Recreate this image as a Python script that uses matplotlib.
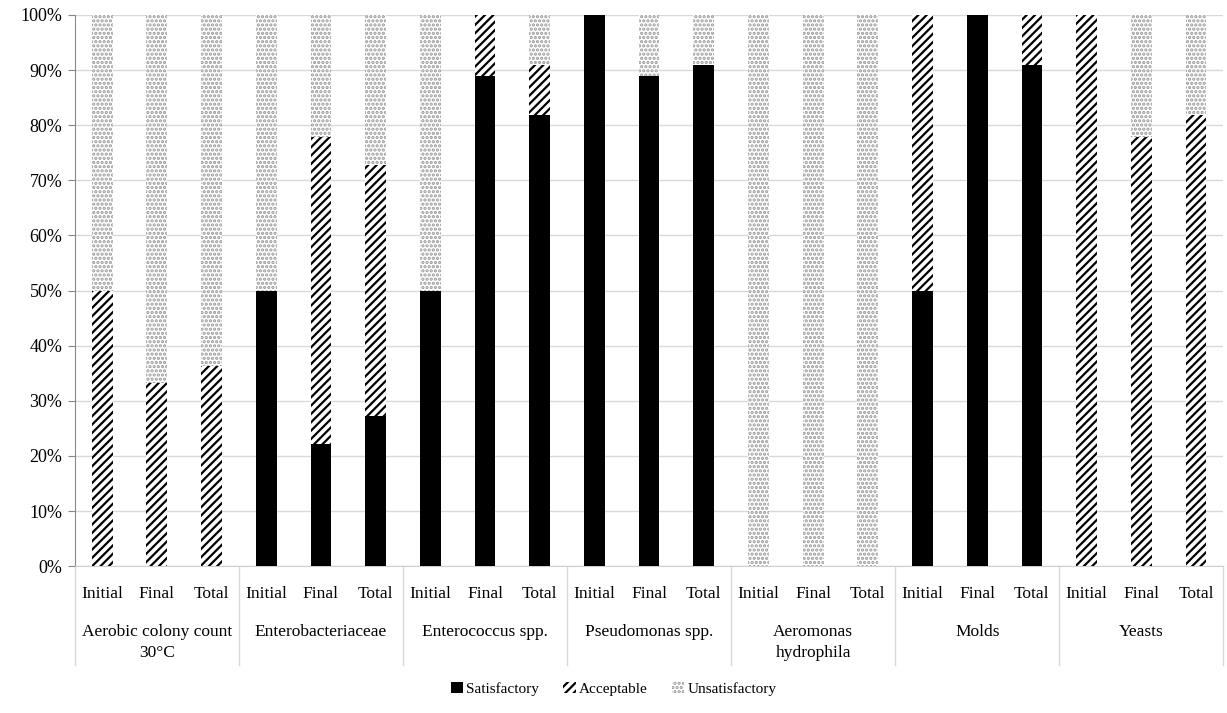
import matplotlib
matplotlib.use("Agg")
import matplotlib.pyplot as plt
import numpy as np
from matplotlib.patches import Patch
from matplotlib.ticker import PercentFormatter
from matplotlib.transforms import blended_transform_factory

plt.rcParams["font.family"] = ["Liberation Serif", "DejaVu Serif"]
plt.rcParams["hatch.linewidth"] = 1.6

groups = ["Aerobic colony count\n30°C", "Enterobacteriaceae", "Enterococcus spp.",
          "Pseudomonas spp.", "Aeromonas\nhydrophila", "Molds", "Yeasts"]
stages = ["Initial", "Final", "Total"]

# percentages per bar (group-major, Initial/Final/Total)
satisfactory = [0, 0, 0,
                50, 22.2, 27.3,
                50, 88.9, 81.8,
                100, 88.9, 90.9,
                0, 0, 0,
                50, 100, 90.9,
                0, 0, 0]
acceptable = [50, 33.3, 36.4,
              0, 55.6, 45.4,
              0, 11.1, 9.1,
              0, 0, 0,
              0, 0, 0,
              50, 0, 9.1,
              100, 77.8, 81.8]
unsatisfactory = [50, 66.7, 63.6,
                  50, 22.2, 27.3,
                  50, 0, 9.1,
                  0, 11.1, 9.1,
                  100, 100, 100,
                  0, 0, 0,
                  0, 22.2, 18.2]

sat = np.array(satisfactory)
acc = np.array(acceptable)
uns = np.array(unsatisfactory)
x = np.arange(len(sat))

fig = plt.figure(figsize=(12.27, 7.13), dpi=100)
ax = fig.add_axes([0.061, 0.206, 0.936, 0.773])

DOT = "#9a9a9a"
w = 0.38
ax.bar(x, sat, w, color="black", linewidth=0, zorder=3)
ax.bar(x, acc, w, bottom=sat, color="white", edgecolor="black",
       hatch="////", linewidth=0, zorder=3)
ax.bar(x, uns, w, bottom=sat + acc, color="white", edgecolor=DOT,
       hatch="....", linewidth=0, zorder=3)

ax.set_xlim(-0.5, len(x) - 0.5)
ax.set_ylim(0, 100)
ax.set_yticks(np.arange(0, 101, 10))
ax.yaxis.set_major_formatter(PercentFormatter(decimals=0))
ax.grid(axis="y", color="#d9d9d9", linewidth=1, zorder=0)
ax.tick_params(axis="y", labelsize=13, length=5, color="#888888", pad=4)
ax.tick_params(axis="x", length=0, labelsize=12.5, pad=14)

for side in ("top", "right"):
    ax.spines[side].set_visible(False)
ax.spines["left"].set_color("#888888")
ax.spines["bottom"].set_color("#d0d0d0")

ax.set_xticks(x)
ax.set_xticklabels(stages * len(groups))

trans = blended_transform_factory(ax.transData, ax.transAxes)
for i, g in enumerate(groups):
    ax.text(3 * i + 1, -0.105, g, transform=trans, ha="center", va="top",
            fontsize=12.5, linespacing=1.45)
for b in np.arange(-0.5, len(x), 3):
    ax.plot([b, b], [0, -0.18], transform=trans, color="#d9d9d9",
            linewidth=1, clip_on=False)

handles = [Patch(facecolor="black", edgecolor="black", linewidth=0),
           Patch(facecolor="white", edgecolor="black", hatch="////", linewidth=0),
           Patch(facecolor="white", edgecolor=DOT, hatch="....", linewidth=0)]
fig.legend(handles, ["Satisfactory", "Acceptable", "Unsatisfactory"],
           loc="lower center", bbox_to_anchor=(0.5, 0.005), ncol=3,
           frameon=False, fontsize=11, handlelength=0.8, handleheight=0.8,
           handletextpad=0.2, columnspacing=1.6)

fig.savefig("out.png", dpi=100)
